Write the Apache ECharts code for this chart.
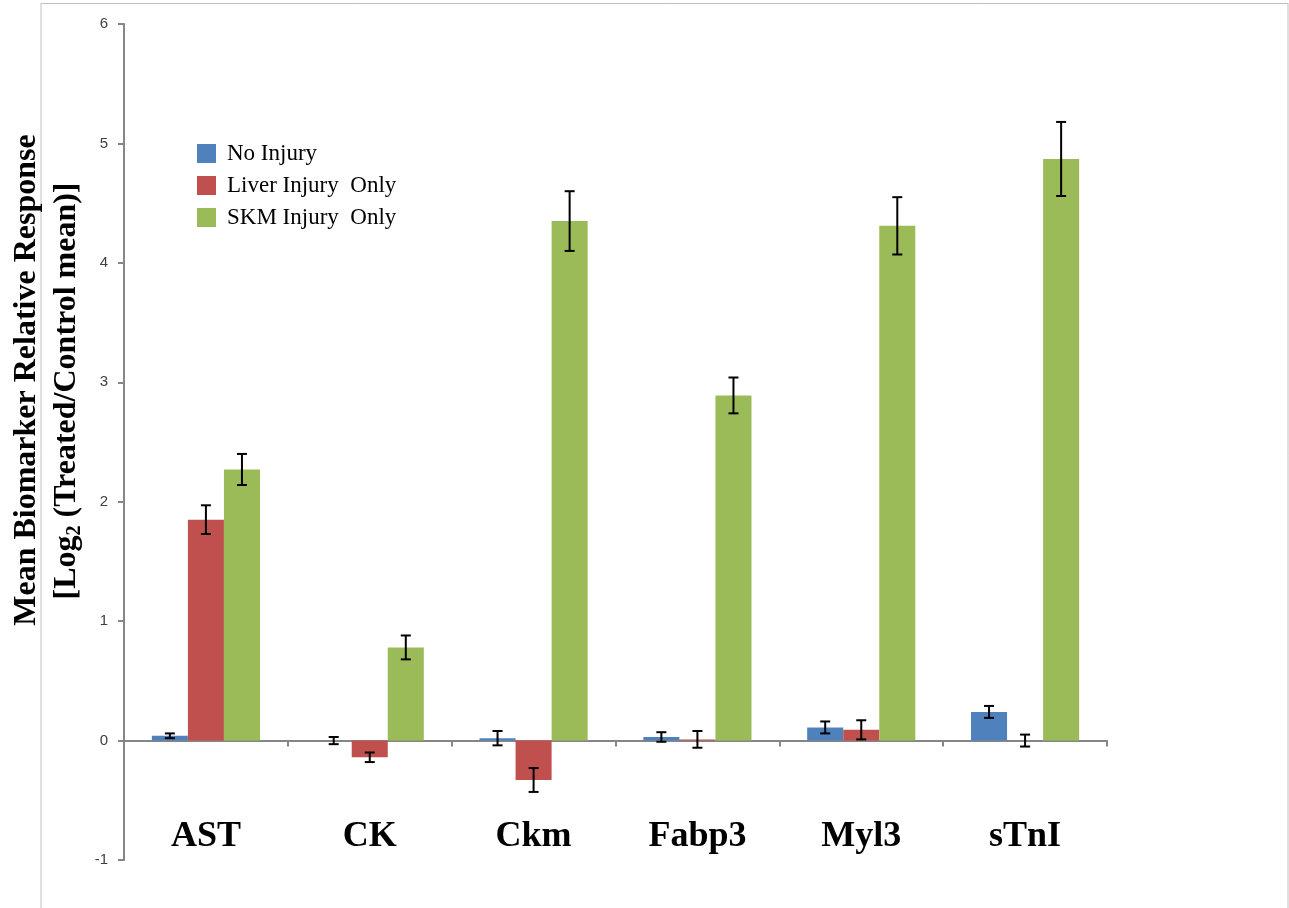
<!DOCTYPE html>
<html>
<head>
<meta charset="utf-8">
<script src="https://cdn.jsdelivr.net/npm/echarts@6/dist/echarts.min.js"></script>
<style>html,body{margin:0;padding:0;background:#fff}#c{width:1289px;height:908px}</style>
</head>
<body>
<div id="c"></div>
<script>
const categories = ['AST', 'CK', 'Ckm', 'Fabp3', 'Myl3', 'sTnI'];
const seriesNames = ['No Injury', 'Liver Injury  Only', 'SKM Injury  Only'];
const noInjury = [0.04, 0.00, 0.02, 0.03, 0.11, 0.24];
const noInjuryErr = [0.02, 0.03, 0.06, 0.04, 0.05, 0.05];
const liverInjury = [1.85, -0.14, -0.33, 0.01, 0.09, 0.00];
const liverInjuryErr = [0.12, 0.04, 0.10, 0.07, 0.08, 0.05];
const skmInjury = [2.27, 0.78, 4.35, 2.89, 4.31, 4.87];
const skmInjuryErr = [0.13, 0.10, 0.25, 0.15, 0.24, 0.31];
const yTicks = [-1, 0, 1, 2, 3, 4, 5, 6];

const colors = ['#4f81bd', '#c0504d', '#9bbb59'];
const values = [noInjury, liverInjury, skmInjury];
const errors = [noInjuryErr, liverInjuryErr, skmInjuryErr];
const catGap = 0.34;

const chart = echarts.init(document.getElementById('c'));

const barSeries = values.map((v, i) => ({
  name: seriesNames[i],
  type: 'bar',
  data: v,
  barGap: '0%',
  barCategoryGap: (catGap * 100) + '%',
  itemStyle: { color: colors[i] },
  z: 2
}));

const errSeries = values.map((v, i) => ({
  type: 'custom',
  name: 'err' + i,
  data: v.map((val, j) => [j, val, errors[i][j]]),
  z: 5,
  renderItem: function (params, api) {
    const idx = api.value(0);
    const val = api.value(1);
    const e = api.value(2);
    const bandW = api.size([1, 0])[0];
    const bw = bandW * (1 - catGap) / 3;
    const c = api.coord([idx, val]);
    const x = c[0] + (i - 1) * bw;
    const top = api.coord([idx, val + e])[1];
    const bot = api.coord([idx, val - e])[1];
    const hw = 5;
    const st = { stroke: '#000', lineWidth: 2 };
    return {
      type: 'group',
      children: [
        { type: 'line', shape: { x1: x, y1: top, x2: x, y2: bot }, style: st },
        { type: 'line', shape: { x1: x - hw, y1: top, x2: x + hw, y2: top }, style: st },
        { type: 'line', shape: { x1: x - hw, y1: bot, x2: x + hw, y2: bot }, style: st }
      ]
    };
  }
}));

chart.setOption({
  animation: false,
  backgroundColor: '#fff',
  grid: { left: 124, right: 182, top: 24, bottom: 48, containLabel: false, outerBoundsMode: 'none' },
  legend: {
    data: seriesNames,
    orient: 'vertical',
    left: 192,
    top: 137,
    itemWidth: 19,
    itemHeight: 19,
    itemGap: 9,
    icon: 'rect',
    textStyle: { fontFamily: 'Liberation Serif', fontSize: 23, color: '#000', padding: [0, 0, 0, 6] }
  },
  xAxis: [{
    type: 'category',
    data: categories,
    axisLine: { onZero: true, lineStyle: { color: '#868686', width: 2 } },
    axisTick: { show: true, length: 6, lineStyle: { color: '#868686', width: 2 } },
    axisLabel: { show: false },
    splitLine: { show: false }
  }, {
    type: 'category',
    data: categories,
    position: 'bottom',
    axisLine: { show: false, onZero: false },
    axisTick: { show: false },
    axisLabel: { margin: -41, fontFamily: 'Liberation Serif', fontWeight: 'bold', fontSize: 36, color: '#000' },
    splitLine: { show: false }
  }],
  yAxis: {
    type: 'value',
    min: yTicks[0],
    max: yTicks[yTicks.length - 1],
    interval: 1,
    axisLine: { show: true, lineStyle: { color: '#868686', width: 2 } },
    axisTick: { show: true, length: 6, lineStyle: { color: '#868686', width: 2 } },
    axisLabel: { margin: 16, fontFamily: 'Liberation Sans', fontSize: 15, color: '#404040' },
    splitLine: { show: false }
  },
  graphic: [
    { type: 'line', shape: { x1: 41, y1: 3, x2: 41, y2: 908 }, style: { stroke: '#c0c0c0', lineWidth: 1 }, z: -1 },
    { type: 'line', shape: { x1: 41, y1: 3.5, x2: 1288, y2: 3.5 }, style: { stroke: '#c0c0c0', lineWidth: 1 }, z: -1 },
    { type: 'line', shape: { x1: 1288, y1: 3, x2: 1288, y2: 908 }, style: { stroke: '#c0c0c0', lineWidth: 1 }, z: -1 },
    {
      type: 'text', x: 27, y: 380, rotation: Math.PI / 2, z: 10,
      style: {
        text: 'Mean Biomarker Relative Response',
        fontFamily: 'Liberation Serif', fontWeight: 'bold', fontSize: 32, fill: '#000',
        align: 'center', verticalAlign: 'middle'
      }
    },
    {
      type: 'text', x: 67, y: 391, rotation: Math.PI / 2, z: 10,
      style: {
        text: '{a|[Log}{b|2}{a| (Treated/Control mean)]}',
        align: 'center', verticalAlign: 'middle',
        rich: {
          a: { fontFamily: 'Liberation Serif', fontWeight: 'bold', fontSize: 32, fill: '#000', color: '#000' },
          b: { fontFamily: 'Liberation Serif', fontWeight: 'bold', fontSize: 20, fill: '#000', color: '#000', padding: [15, 0, 0, 0] }
        }
      }
    }
  ],
  series: barSeries.concat(errSeries)
});
</script>
</body>
</html>
